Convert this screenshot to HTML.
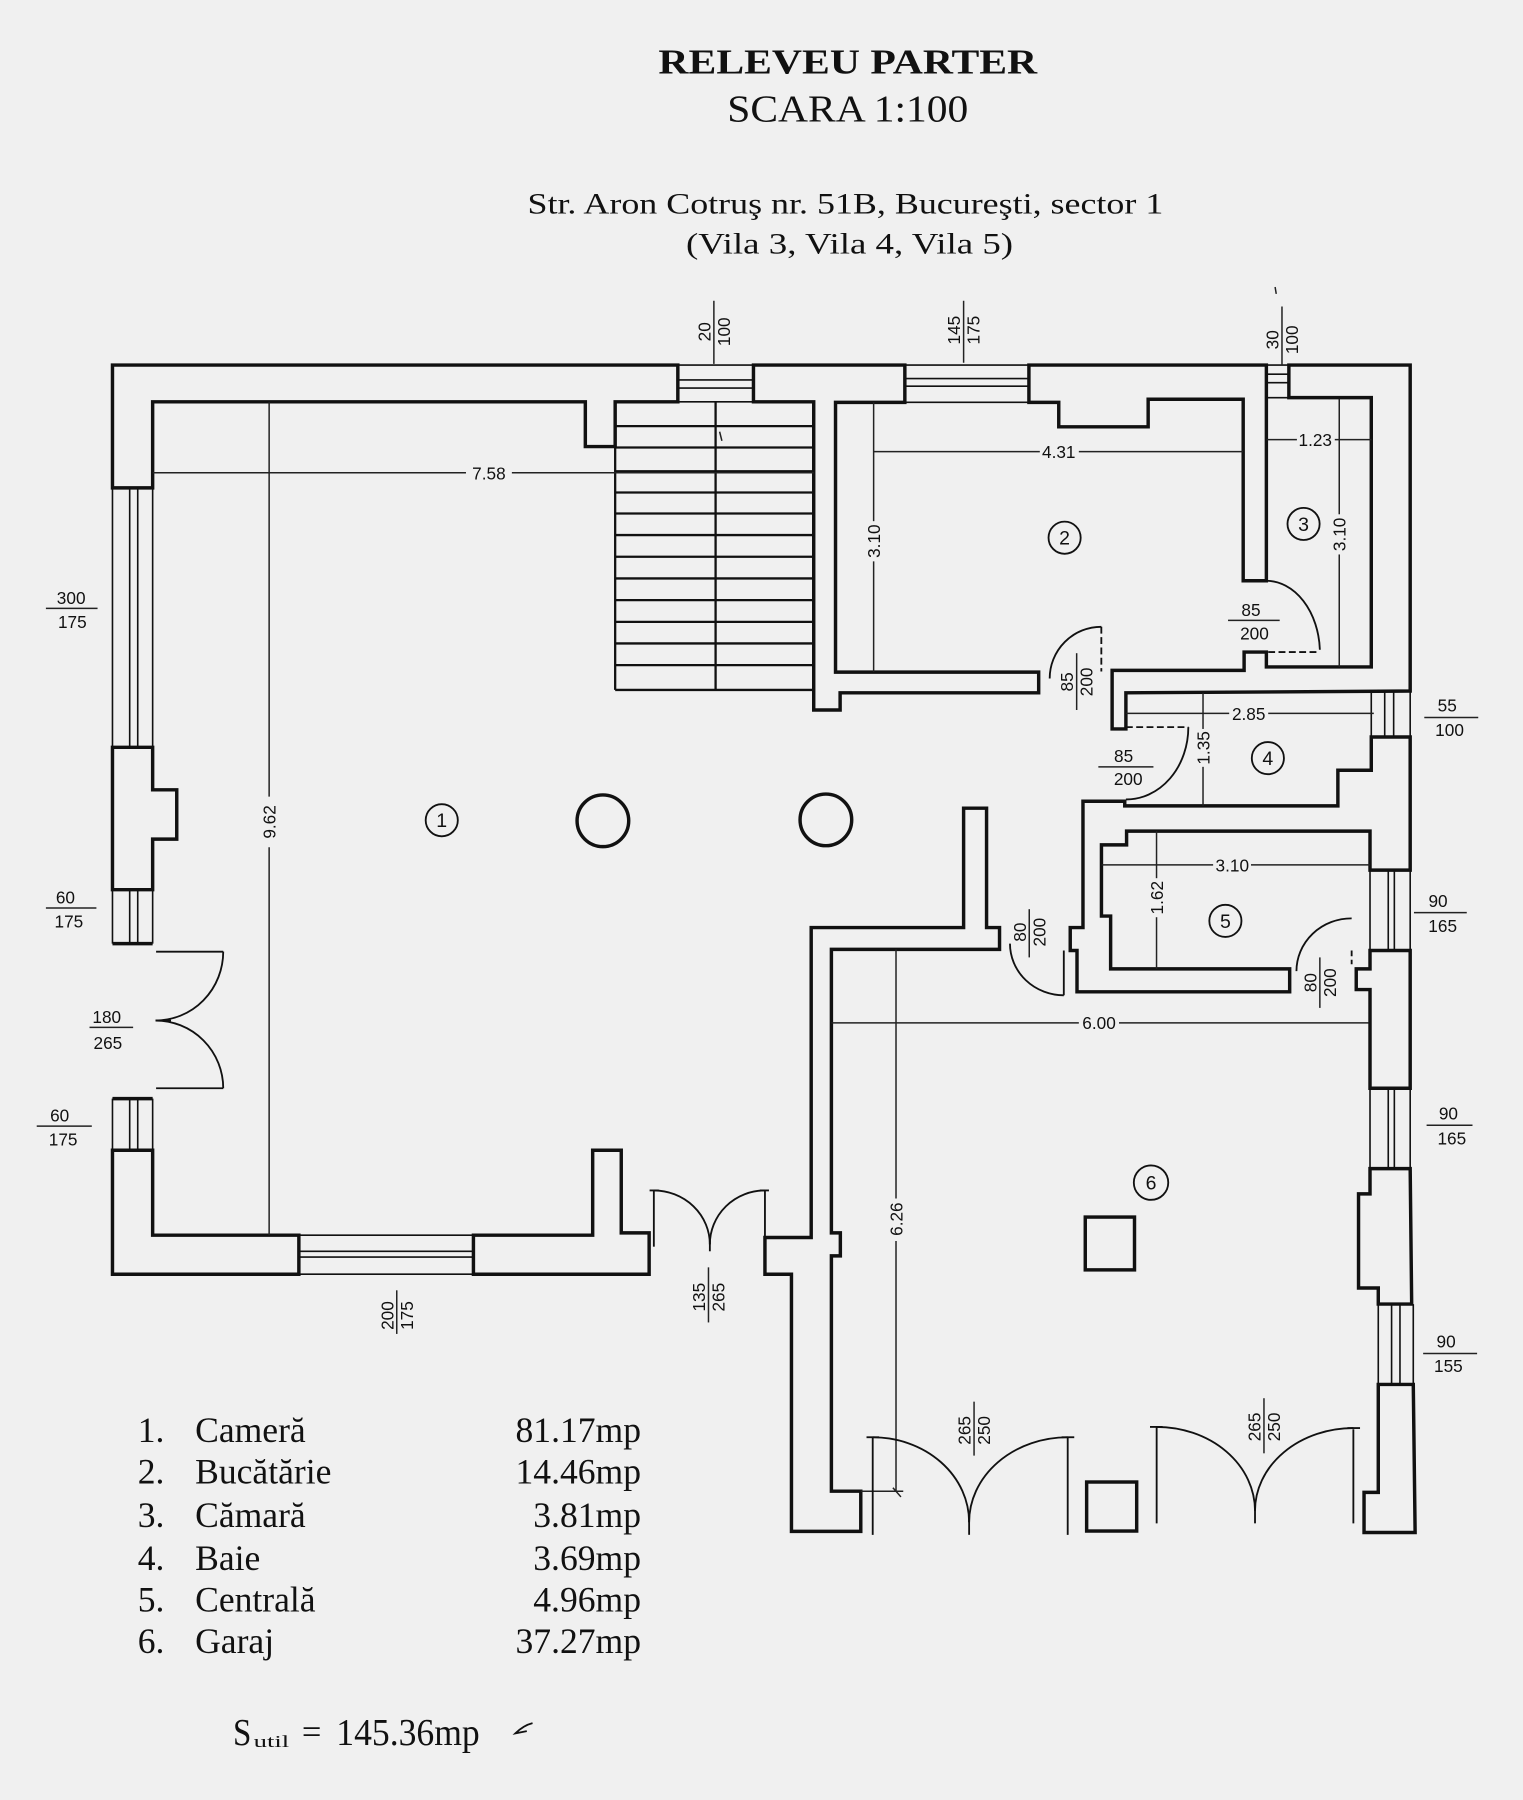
<!DOCTYPE html>
<html><head><meta charset="utf-8"><style>
html,body{margin:0;padding:0;background:#f0f0f0;}
svg{display:block;}
.w{fill:none;stroke:#111;stroke-width:3;stroke-linejoin:miter;}
.t{fill:none;stroke:#111;stroke-width:1.4;}
.s{fill:none;stroke:#111;stroke-width:2;}
.d{fill:none;stroke:#222;stroke-width:1.3;}
.a{fill:none;stroke:#111;stroke-width:1.6;}
.f{font-family:"Liberation Sans",sans-serif;font-size:15px;fill:#111;text-anchor:middle;}
.n{font-family:"Liberation Sans",sans-serif;font-size:17px;fill:#111;text-anchor:middle;}
.sf{font-family:"Liberation Serif",serif;fill:#111;}
</style></head><body>
<svg width="1523" height="1800" viewBox="0 0 1327 1568" preserveAspectRatio="none" xmlns="http://www.w3.org/2000/svg">
<rect x="0" y="0" width="1327" height="1568" fill="#f0f0f0"/>

<!-- Titles -->
<text class="sf" x="573.7" y="64" font-size="30" font-weight="bold" textLength="330" lengthAdjust="spacingAndGlyphs">RELEVEU PARTER</text>
<text class="sf" x="633.7" y="106" font-size="33" textLength="210" lengthAdjust="spacingAndGlyphs">SCARA 1:100</text>
<text class="sf" x="459.6" y="186" font-size="26" textLength="554" lengthAdjust="spacingAndGlyphs">Str. Aron Cotruş nr. 51B, Bucureşti, sector 1</text>
<text class="sf" x="597.7" y="221" font-size="26" textLength="285" lengthAdjust="spacingAndGlyphs">(Vila 3, Vila 4, Vila 5)</text>
<line class="d" x1="1111" y1="250" x2="1112" y2="256"/>

<!-- Walls -->
<polygon class="w" points="98,425 98,318 590.6,318 590.6,350 536,350 536,389 510,389 510,350 133,350 133,425"/>
<polygon class="w" points="98,651 133,651 133,688 154,688 154,731 133,731 133,775 98,775"/>
<polygon class="w" points="98,1002 133,1002 133,1076 260.4,1076 260.4,1110 98,1110"/>
<polygon class="w" points="412.5,1076 516.4,1076 516.4,1002 541.3,1002 541.3,1074 565.6,1074 565.6,1110 412.5,1110"/>
<polygon class="w" points="656.5,318 788.4,318 788.4,350.5 728,350.5 728,585.5 905,585.5 905,603.5 732,603.5 732,618.5 709,618.5 709,350 656.5,350"/>
<polygon class="w" points="896.5,318 1103.4,318 1103.4,505.9 1083.2,505.9 1083.2,347.8 1000.4,347.8 1000.4,371.8 922.5,371.8 922.5,350.5 896.5,350.5"/>
<polygon class="w" points="1123,318 1228.7,318 1228.7,602 981,603.5 981,635 969,635 969,584 1084,584 1084,568 1103.4,568 1103.4,581 1194.8,581 1194.8,346.4 1123,346.4"/>
<polygon class="w" points="1228.7,642 1228.7,758 1193.7,758 1193.7,724 981.6,724 981.6,736 959.7,736 959.7,798 967.7,798 967.7,844 1123.7,844 1123.7,864 938.4,864 938.4,828 932.5,828 932.5,808 943.6,808 943.6,698 980,698 980,702 1165.7,702 1165.7,671 1194.8,671 1194.8,642"/>
<polygon class="w" points="1193.7,828 1228.7,828 1228.7,948 1193.7,948 1193.7,862 1181.7,862 1181.7,844 1193.7,844"/>
<polygon class="w" points="1193.7,1018 1228.7,1018 1230,1136 1200.9,1136 1200.9,1122 1183.7,1122 1183.7,1040 1193.7,1040"/>
<polygon class="w" points="1200.9,1206 1231.4,1206 1233,1335 1188.5,1335 1188.5,1300 1200.9,1300"/>
<polygon class="w" points="839.6,704 859.6,704 859.6,808 870.9,808 870.9,827 724.4,827 724.4,1074 732.2,1074 732.2,1094 724.4,1094 724.4,1299 750,1299 750,1334 689.6,1334 689.6,1110 666.5,1110 666.5,1078 706.8,1078 706.8,808 839.6,808"/>

<!-- Windows -->
<g class="t">
<line x1="98" y1="425" x2="98" y2="651"/><line x1="113" y1="425" x2="113" y2="651"/><line x1="120" y1="425" x2="120" y2="651"/><line x1="133" y1="425" x2="133" y2="651"/>
<line x1="98" y1="775" x2="98" y2="822"/><line x1="113" y1="775" x2="113" y2="822"/><line x1="120" y1="775" x2="120" y2="822"/><line x1="133" y1="775" x2="133" y2="822"/>
<line x1="98" y1="957" x2="98" y2="1002"/><line x1="113" y1="957" x2="113" y2="1002"/><line x1="120" y1="957" x2="120" y2="1002"/><line x1="133" y1="957" x2="133" y2="1002"/>
<line x1="260.4" y1="1076" x2="412.5" y2="1076"/><line x1="260.4" y1="1090" x2="412.5" y2="1090"/><line x1="260.4" y1="1095" x2="412.5" y2="1095"/><line x1="260.4" y1="1110" x2="412.5" y2="1110"/>
<line x1="590.6" y1="318" x2="656.5" y2="318"/><line x1="590.6" y1="331" x2="656.5" y2="331"/><line x1="590.6" y1="338" x2="656.5" y2="338"/><line x1="590.6" y1="350" x2="656.5" y2="350"/>
<line x1="788.4" y1="318" x2="896.5" y2="318"/><line x1="788.4" y1="329.8" x2="896.5" y2="329.8"/><line x1="788.4" y1="336.4" x2="896.5" y2="336.4"/><line x1="788.4" y1="350.5" x2="896.5" y2="350.5"/>
<line x1="1103.4" y1="318" x2="1123" y2="318"/><line x1="1103.4" y1="326" x2="1123" y2="326"/><line x1="1103.4" y1="333.4" x2="1123" y2="333.4"/><line x1="1103.4" y1="346.4" x2="1123" y2="346.4"/>
<line x1="1194.8" y1="602" x2="1194.8" y2="642"/><line x1="1206.5" y1="602" x2="1206.5" y2="642"/><line x1="1214.3" y1="602" x2="1214.3" y2="642"/><line x1="1228.7" y1="602" x2="1228.7" y2="642"/>
<line x1="1193.7" y1="758" x2="1193.7" y2="828"/><line x1="1209.6" y1="758" x2="1209.6" y2="828"/><line x1="1214.9" y1="758" x2="1214.9" y2="828"/><line x1="1228.7" y1="758" x2="1228.7" y2="828"/>
<line x1="1193.7" y1="948" x2="1193.7" y2="1018"/><line x1="1209.6" y1="948" x2="1209.6" y2="1018"/><line x1="1214.9" y1="948" x2="1214.9" y2="1018"/><line x1="1228.7" y1="948" x2="1228.7" y2="1018"/>
<line x1="1200.9" y1="1136" x2="1200.9" y2="1206"/><line x1="1212.5" y1="1136" x2="1212.5" y2="1206"/><line x1="1219.8" y1="1136" x2="1219.8" y2="1206"/><line x1="1231.4" y1="1136" x2="1231.4" y2="1206"/>
</g>
<line class="w" x1="98" y1="822" x2="133" y2="822"/>
<line class="w" x1="98" y1="957" x2="133" y2="957"/>

<!-- Stair -->
<g class="s">
<line x1="536" y1="389" x2="536" y2="601"/>
<line x1="536" y1="601" x2="709" y2="601"/>
<line x1="623.5" y1="350" x2="623.5" y2="601"/>
<line x1="536" y1="371.2" x2="709" y2="371.2"/>
<line x1="536" y1="389.8" x2="709" y2="389.8"/>
<line x1="536" y1="411" x2="709" y2="411" stroke-width="3"/>
<line x1="536" y1="429" x2="709" y2="429"/>
<line x1="536" y1="447.3" x2="709" y2="447.3"/>
<line x1="536" y1="466.1" x2="709" y2="466.1"/>
<line x1="536" y1="485" x2="709" y2="485"/>
<line x1="536" y1="503.9" x2="709" y2="503.9"/>
<line x1="536" y1="522.8" x2="709" y2="522.8"/>
<line x1="536" y1="541.7" x2="709" y2="541.7"/>
<line x1="536" y1="560.5" x2="709" y2="560.5"/>
<line x1="536" y1="579.4" x2="709" y2="579.4"/>
</g>
<line class="d" x1="627" y1="376" x2="629" y2="384"/>

<!-- Columns and squares -->
<circle class="w" cx="525.3" cy="715" r="22.5"/>
<circle class="w" cx="719.6" cy="714.2" r="22.5"/>
<rect class="w" x="945.6" y="1060.2" width="42.9" height="46"/>
<rect class="w" x="946.8" y="1291" width="43.6" height="42.7"/>

<!-- Dimension lines -->
<g class="d">
<line x1="133" y1="411.8" x2="406" y2="411.8"/><line x1="446" y1="411.8" x2="709" y2="411.8"/>
<line x1="234.5" y1="350" x2="234.5" y2="694"/><line x1="234.5" y1="738" x2="234.5" y2="1076"/>
<line x1="761" y1="393.4" x2="906" y2="393.4"/><line x1="940" y1="393.4" x2="1083" y2="393.4"/>
<line x1="761.2" y1="350.5" x2="761.2" y2="454"/><line x1="761.2" y1="489" x2="761.2" y2="585.5"/>
<line x1="1103.4" y1="383" x2="1130" y2="383"/><line x1="1163" y1="383" x2="1195" y2="383"/>
<line x1="1166.9" y1="347.5" x2="1166.9" y2="448"/><line x1="1166.9" y1="483" x2="1166.9" y2="581"/>
<line x1="981" y1="621.4" x2="1071" y2="621.4"/><line x1="1105" y1="621.4" x2="1197" y2="621.4"/>
<line x1="1048.2" y1="603.5" x2="1048.2" y2="635"/><line x1="1048.2" y1="668" x2="1048.2" y2="702"/>
<line x1="959.7" y1="753.4" x2="1057" y2="753.4"/><line x1="1090" y1="753.4" x2="1193.7" y2="753.4"/>
<line x1="1007.7" y1="724" x2="1007.7" y2="765"/><line x1="1007.7" y1="799" x2="1007.7" y2="844"/>
<line x1="724.4" y1="891" x2="940" y2="891"/><line x1="975" y1="891" x2="1192.5" y2="891"/>
<line x1="780.7" y1="827" x2="780.7" y2="1044"/><line x1="780.7" y1="1081" x2="780.7" y2="1299"/>
<line x1="750" y1="1299" x2="787" y2="1299"/>
<line x1="778" y1="1296" x2="785" y2="1304"/>
</g>
<g class="f" font-size="16">
<text x="426" y="417.5">7.58</text>
<text x="922.5" y="399">4.31</text>
<text x="1146" y="388.5">1.23</text>
<text x="1088" y="627">2.85</text>
<text x="1073.7" y="759">3.10</text>
<text x="957.6" y="896.5">6.00</text>
<text transform="translate(240,716) rotate(-90)" x="0" y="0">9.62</text>
<text transform="translate(766.7,471.4) rotate(-90)" x="0" y="0">3.10</text>
<text transform="translate(1172.4,465.5) rotate(-90)" x="0" y="0">3.10</text>
<text transform="translate(1053.7,651.5) rotate(-90)" x="0" y="0">1.35</text>
<text transform="translate(1013.2,782) rotate(-90)" x="0" y="0">1.62</text>
<text transform="translate(786.2,1062) rotate(-90)" x="0" y="0">6.26</text>
</g>

<!-- Doors -->
<g class="a">
<line x1="136" y1="829" x2="194.5" y2="829"/>
<line x1="136" y1="948" x2="194.5" y2="948"/>
<path d="M194.5,829 A59,60 0 0 1 135.5,889"/>
<path d="M194.5,948 A59,59 0 0 0 135.5,889"/>
<line x1="135.5" y1="889" x2="149" y2="889"/>
<line x1="569.7" y1="1037" x2="569.7" y2="1086"/>
<line x1="666.5" y1="1037" x2="666.5" y2="1078"/>
<path d="M569.7,1037 A49,47 0 0 1 618.5,1084"/>
<path d="M666.5,1037 A48,47 0 0 0 618.5,1084"/>
<line x1="618.5" y1="1076" x2="618.5" y2="1090"/>
<line x1="566" y1="1037" x2="574" y2="1037"/><line x1="662" y1="1037" x2="670" y2="1037"/>
<line x1="959.6" y1="546" x2="959.6" y2="585" stroke-dasharray="6 3"/>
<path d="M959.6,546 A45,45 0 0 0 914.6,591"/>
<line x1="1105" y1="568" x2="1150" y2="568" stroke-dasharray="6 3"/>
<path d="M1103.4,505.9 A47,63 0 0 1 1150,566"/>
<line x1="981" y1="633.4" x2="1035.4" y2="633.4" stroke-dasharray="6 3"/>
<path d="M1035.4,633.4 A54,63 0 0 1 981,696.4"/>
<line x1="926.9" y1="828" x2="926.9" y2="867"/>
<path d="M926.9,867 A47,45 0 0 1 880,822"/>
<line x1="1177.7" y1="828" x2="1177.7" y2="840" stroke-dasharray="5 3"/>
<path d="M1177.7,800 A48,46 0 0 0 1129.6,846"/>
<line x1="760.4" y1="1252" x2="760.4" y2="1337"/>
<line x1="930.3" y1="1252" x2="930.3" y2="1337"/>
<line x1="755" y1="1252" x2="766" y2="1252"/><line x1="925" y1="1252" x2="936" y2="1252"/>
<path d="M760.4,1252 A84,74 0 0 1 844.4,1326"/>
<path d="M930.3,1252 A86,74 0 0 0 844.4,1326"/>
<line x1="844.4" y1="1320" x2="844.4" y2="1337"/>
<line x1="1007.8" y1="1243" x2="1007.8" y2="1327"/>
<line x1="1179.2" y1="1245" x2="1179.2" y2="1327"/>
<line x1="1002" y1="1243" x2="1013" y2="1243"/><line x1="1174" y1="1244" x2="1185" y2="1244"/>
<path d="M1007.8,1243 A85.7,73 0 0 1 1093.5,1316"/>
<path d="M1179.2,1244 A85.7,72 0 0 0 1093.5,1316"/>
<line x1="1093.5" y1="1310" x2="1093.5" y2="1327"/>
</g>

<!-- Horizontal fraction labels -->
<g class="d">
<line x1="40" y1="530" x2="85" y2="530"/>
<line x1="40" y1="791" x2="84" y2="791"/>
<line x1="78" y1="895" x2="116" y2="895"/>
<line x1="32" y1="981" x2="80" y2="981"/>
<line x1="1070" y1="540.4" x2="1115" y2="540.4"/>
<line x1="1241" y1="625" x2="1288" y2="625"/>
<line x1="957" y1="668" x2="1005" y2="668"/>
<line x1="1232" y1="795" x2="1278" y2="795"/>
<line x1="1243" y1="980.2" x2="1283" y2="980.2"/>
<line x1="1240" y1="1179" x2="1287" y2="1179"/>
</g>
<g class="f">
<text x="62" y="526">300</text><text x="63" y="547">175</text>
<text x="57" y="787">60</text><text x="60" y="808">175</text>
<text x="93" y="891">180</text><text x="94" y="914">265</text>
<text x="52" y="977">60</text><text x="55" y="998">175</text>
<text x="1090" y="536.5">85</text><text x="1093" y="557">200</text>
<text x="1261" y="620">55</text><text x="1263" y="641">100</text>
<text x="979" y="664">85</text><text x="983" y="684">200</text>
<text x="1253" y="790">90</text><text x="1257" y="812">165</text>
<text x="1262" y="975">90</text><text x="1265" y="997">165</text>
<text x="1260" y="1174">90</text><text x="1262" y="1195">155</text>
</g>

<!-- Rotated fraction labels -->
<g class="d">
<line x1="622" y1="262" x2="622" y2="317"/>
<line x1="839.6" y1="262" x2="839.6" y2="316"/>
<line x1="1117" y1="267" x2="1117" y2="318"/>
<line x1="345.7" y1="1124" x2="345.7" y2="1162"/>
<line x1="617.3" y1="1104" x2="617.3" y2="1152"/>
<line x1="938.1" y1="569" x2="938.1" y2="618.5"/>
<line x1="896.8" y1="792" x2="896.8" y2="834"/>
<line x1="1150" y1="834" x2="1150" y2="878"/>
<line x1="848.7" y1="1221" x2="848.7" y2="1268"/>
<line x1="1101.3" y1="1218" x2="1101.3" y2="1266"/>
</g>
<g class="f">
<g transform="translate(622,289) rotate(-90)"><text x="0" y="-3">20</text><text x="0" y="14">100</text></g>
<g transform="translate(839.6,287.6) rotate(-90)"><text x="0" y="-3">145</text><text x="0" y="14">175</text></g>
<g transform="translate(1117,296) rotate(-90)"><text x="0" y="-3">30</text><text x="0" y="14">100</text></g>
<g transform="translate(345.7,1146) rotate(-90)"><text x="0" y="-3">200</text><text x="0" y="14">175</text></g>
<g transform="translate(617.3,1130) rotate(-90)"><text x="0" y="-3">135</text><text x="0" y="14">265</text></g>
<g transform="translate(938.1,594) rotate(-90)"><text x="0" y="-3">85</text><text x="0" y="14">200</text></g>
<g transform="translate(896.8,812) rotate(-90)"><text x="0" y="-3">80</text><text x="0" y="14">200</text></g>
<g transform="translate(1150,856) rotate(-90)"><text x="0" y="-3">80</text><text x="0" y="14">200</text></g>
<g transform="translate(848.7,1246) rotate(-90)"><text x="0" y="-3">265</text><text x="0" y="14">250</text></g>
<g transform="translate(1101.3,1243) rotate(-90)"><text x="0" y="-3">265</text><text x="0" y="14">250</text></g>
</g>

<!-- Room number circles -->
<g class="a" stroke-width="1.5">
<circle cx="384.9" cy="714.5" r="14"/>
<circle cx="927.6" cy="468.4" r="14"/>
<circle cx="1135.8" cy="456.4" r="14"/>
<circle cx="1104.7" cy="660.4" r="14"/>
<circle cx="1067.7" cy="802.2" r="14"/>
<circle cx="1002.9" cy="1030.2" r="15"/>
</g>
<g class="n">
<text x="384.9" y="720.5">1</text>
<text x="927.6" y="474.4">2</text>
<text x="1135.8" y="462.4">3</text>
<text x="1104.7" y="666.4">4</text>
<text x="1067.7" y="808.2">5</text>
<text x="1002.9" y="1036.2">6</text>
</g>

<!-- Legend -->
<g class="sf" font-size="31">
<text x="120" y="1256">1.</text><text x="170" y="1256">Cameră</text><text x="558.5" y="1256" text-anchor="end">81.17mp</text>
<text x="120" y="1292.5">2.</text><text x="170" y="1292.5">Bucătărie</text><text x="558.5" y="1292.5" text-anchor="end">14.46mp</text>
<text x="120" y="1330">3.</text><text x="170" y="1330">Cămară</text><text x="558.5" y="1330" text-anchor="end">3.81mp</text>
<text x="120" y="1367.5">4.</text><text x="170" y="1367.5">Baie</text><text x="558.5" y="1367.5" text-anchor="end">3.69mp</text>
<text x="120" y="1404">5.</text><text x="170" y="1404">Centrală</text><text x="558.5" y="1404" text-anchor="end">4.96mp</text>
<text x="120" y="1440">6.</text><text x="170" y="1440">Garaj</text><text x="558.5" y="1440" text-anchor="end">37.27mp</text>
</g>
<text class="sf" x="203" y="1520" font-size="33" textLength="16" lengthAdjust="spacingAndGlyphs">S</text>
<text class="sf" x="221" y="1522" font-size="15" textLength="31" lengthAdjust="spacingAndGlyphs">util</text>
<text class="sf" x="263" y="1519" font-size="30" textLength="17" lengthAdjust="spacingAndGlyphs">=</text>
<text class="sf" x="293" y="1520" font-size="33" textLength="125" lengthAdjust="spacingAndGlyphs">145.36mp</text>
<path d="M464,1501 Q456,1503 449,1510 L459,1508" fill="none" stroke="#111" stroke-width="1.6"/>
</svg>
</body></html>
